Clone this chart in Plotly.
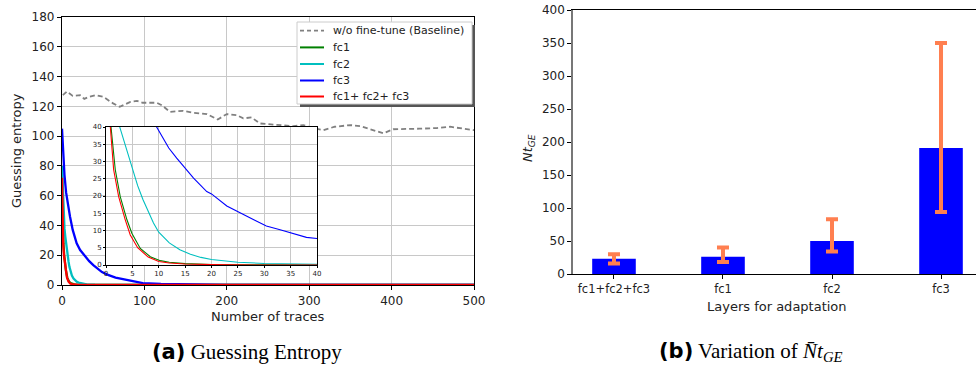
import plotly.graph_objects as go

W, H = 976, 367

# ---------------- data ----------------
base_x = [1, 6, 13, 22, 27, 33, 41, 50, 62, 70, 83, 91, 98, 115, 121, 131, 147, 159, 176, 189, 200,
          212, 220, 230, 240, 252, 265, 281, 293, 305, 317, 331, 350, 362, 374, 390, 402, 418, 434,
          455, 471, 487, 500]
base_y = [127.5, 130, 127, 127.5, 125, 126.4, 127.5, 126.4, 122, 119.7, 123, 123.7, 122.4, 122.4,
          120.8, 116.3, 117, 115.7, 114.8, 111.2, 114.8, 114.1, 111.9, 112.6, 108.5, 108, 107.4,
          106.7, 107.4, 105.4, 104, 106.3, 107.4, 106.7, 104.6, 101.9, 104.6, 105, 105, 105.4,
          106.3, 105, 104]

fc1_x = [0, 0.5, 0.95, 1.76, 2.7, 3.97, 4.9, 6.5, 8.4, 10.3, 12, 15, 20, 30, 50, 500]
fc1_y = [75, 55, 40, 27.6, 19.8, 13.1, 9.2, 4.8, 2.4, 1.26, 0.8, 0.4, 0.15, 0.05, 0, 0]

fc2_x = [0, 1, 2, 2.6, 3, 4, 5, 6, 7, 8, 9, 10, 11, 12, 14, 16, 18, 20, 25, 30, 40, 60, 100, 500]
fc2_y = [80, 62, 48, 40, 38, 32.5, 27.5, 23, 19, 15.5, 12.2, 9.5, 7.8, 6.4, 4.4, 3.1, 2.2, 1.6,
         0.8, 0.45, 0.2, 0.05, 0, 0]

# fc3 as drawn in the main panel
fc3_main_x = [0, 1, 2, 3, 5, 7, 9.7, 13, 17.8, 22, 28, 33, 38, 43, 48.5, 55, 65, 78.5, 98, 120,
              150, 200, 300, 500]
fc3_main_y = [105, 92, 82, 74, 62, 54, 46, 37, 28, 23.5, 19, 16, 13.4, 11, 8.7, 7, 5, 3.4, 1.3,
              0.7, 0.35, 0.1, 0, 0]
# fc3 as drawn in the zoomed inset
fc3_x = [0, 1, 2, 3, 4, 5, 6, 7, 8, 9.6, 11.9, 13.4, 15.3, 16.6, 19.1, 20, 22.9, 25.4, 27.9,
         30.4, 33, 35.5, 38, 40, 45]
fc3_y = [105, 90, 78, 68, 60, 54, 49, 45, 42.5, 40, 33.9, 31, 27.6, 25.2, 21.3, 20.6, 17.1, 15.2,
         13.3, 11.3, 10.2, 9, 8, 7.7, 6.8]

all_x = [0, 0.5, 0.82, 1.45, 2.4, 3.65, 4.6, 6, 8, 10, 12, 15, 20, 30, 500]
all_y = [72, 52, 40, 27.6, 19.8, 13.1, 8.7, 5, 2.3, 1.0, 0.6, 0.3, 0.1, 0, 0]

bar_cats = ["fc1+fc2+fc3", "fc1", "fc2", "fc3"]
bar_vals = [23, 26, 50, 191]
err_plus = [7, 14, 33, 159]
err_minus = [7, 8, 16, 97]

legend_names = ["w/o fine-tune (Baseline)", "fc1", "fc2", "fc3", "fc1+ fc2+ fc3"]
legend_colors = ["#808080", "#008000", "#00BFBF", "#0000FF", "#FF0000"]

main_series = [
    (fc1_x, fc1_y, legend_colors[1]),
    (fc2_x, fc2_y, legend_colors[2]),
    (fc3_main_x, fc3_main_y, legend_colors[3]),
    (all_x, all_y, legend_colors[4]),
]
inset_series = [
    (fc1_x, fc1_y, legend_colors[1]),
    (fc2_x, fc2_y, legend_colors[2]),
    (fc3_x, fc3_y, legend_colors[3]),
    (all_x, all_y, legend_colors[4]),
]

# ---------------- figure ----------------
def px_x(p):
    return p / W

def px_y(p):
    return 1 - p / H

fig = go.Figure()

fig.add_trace(go.Scatter(x=base_x, y=base_y, mode="lines", showlegend=False,
                         line=dict(color=legend_colors[0], width=1.8, dash="5px,3px"),
                         xaxis="x", yaxis="y"))
for xs, ys, col in main_series:
    fig.add_trace(go.Scatter(x=xs, y=ys, mode="lines", showlegend=False,
                             line=dict(color=col, width=2.3), xaxis="x", yaxis="y"))
for xs, ys, col in inset_series:
    fig.add_trace(go.Scatter(x=xs, y=ys, mode="lines", showlegend=False,
                             line=dict(color=col, width=1.1), xaxis="x3", yaxis="y3"))

fig.add_trace(go.Bar(x=bar_cats, y=bar_vals, width=0.4, marker=dict(color="#0000FF", line=dict(width=0)),
                     showlegend=False, xaxis="x2", yaxis="y2",
                     error_y=dict(type="data", symmetric=False, array=err_plus, arrayminus=err_minus,
                                  color="#FF7F50", thickness=4, width=6)))

font_fam = "DejaVu Sans"
tick_col = "#222"

common = dict(automargin=False, zeroline=False, tickcolor="black")

fig.update_layout(
    width=W, height=H,
    margin=dict(l=0, r=0, t=0, b=0, autoexpand=False),
    paper_bgcolor="white", plot_bgcolor="white",
    font=dict(family=font_fam, color=tick_col, size=12),
    showlegend=False,
    xaxis=dict(domain=[px_x(62), px_x(474)], range=[0, 500], dtick=100, anchor="y",
               showgrid=True, gridcolor="#c8c8c8", gridwidth=1,
               showline=True, linecolor="black", linewidth=1.2, mirror=True,
               ticks="outside", ticklen=4, tickfont=dict(size=12), **common),
    yaxis=dict(domain=[px_y(285), px_y(17)], range=[0, 180], dtick=20, anchor="x",
               showgrid=True, gridcolor="#c8c8c8", gridwidth=1,
               showline=True, linecolor="black", linewidth=1.2, mirror=True,
               ticks="outside", ticklen=4, tickfont=dict(size=12), **common),
    xaxis3=dict(domain=[px_x(106), px_x(317)], range=[0, 40], dtick=5, anchor="y3",
                showgrid=True, gridcolor="#c8c8c8", gridwidth=1,
                showline=True, linecolor="black", linewidth=1, mirror=True,
                ticks="outside", ticklen=2, tickfont=dict(size=7), **common),
    yaxis3=dict(domain=[px_y(265), px_y(127)], range=[0, 40], dtick=5, anchor="x3",
                showgrid=True, gridcolor="#c8c8c8", gridwidth=1,
                showline=True, linecolor="black", linewidth=1, mirror=True,
                ticks="outside", ticklen=2, tickfont=dict(size=7), **common),
    xaxis2=dict(domain=[px_x(573), 1], range=[-0.376, 3.321], type="category", anchor="y2",
                showgrid=False,
                showline=True, linecolor="black", linewidth=1.2, mirror=True,
                ticks="outside", ticklen=4, tickfont=dict(size=11.5), **common),
    yaxis2=dict(domain=[px_y(274), px_y(10)], range=[0, 400], dtick=50, anchor="x2",
                showgrid=False,
                showline=True, linecolor="#777", linewidth=1.5,
                ticks="outside", ticklen=4, tickfont=dict(size=12), **common),
)

# white background for the inset (covers main grid under it)
fig.add_shape(type="rect", xref="x3", yref="y3", x0=0, x1=40, y0=0, y1=40,
              fillcolor="white", line=dict(width=0), layer="below")

# ---- manual legend ----
lx0, lx1, ly0, ly1 = 297, 472, 22, 104
fig.add_shape(type="rect", xref="paper", yref="paper",
              x0=px_x(lx0 + 3), x1=px_x(lx1 + 3), y0=px_y(ly1 + 3), y1=px_y(ly0 + 3),
              fillcolor="#555", line=dict(width=0), layer="above")
fig.add_shape(type="rect", xref="paper", yref="paper",
              x0=px_x(lx0), x1=px_x(lx1), y0=px_y(ly1), y1=px_y(ly0),
              fillcolor="white", line=dict(color="#cccccc", width=1), layer="above")
row_y = [30.7, 47.4, 64, 80.5, 96.5]
for i, (nm, col) in enumerate(zip(legend_names, legend_colors)):
    fig.add_shape(type="line", xref="paper", yref="paper",
                  x0=px_x(300), x1=px_x(324), y0=px_y(row_y[i]), y1=px_y(row_y[i]),
                  line=dict(color=col, width=2 if i else 1.8, dash="4px,3px" if i == 0 else "solid"),
                  layer="above")
    fig.add_annotation(xref="paper", yref="paper", x=px_x(331), y=px_y(row_y[i]),
                       xanchor="left", yanchor="middle", showarrow=False, text=nm,
                       font=dict(size=11, family=font_fam, color="#222"))

# ---- axis titles ----
fig.add_annotation(xref="paper", yref="paper", x=px_x(268), y=px_y(316), xanchor="center", yanchor="middle",
                   showarrow=False, text="Number of traces", font=dict(size=13, color="#222"))
fig.add_annotation(xref="paper", yref="paper", x=px_x(16), y=px_y(151), xanchor="center", yanchor="middle",
                   showarrow=False, text="Guessing entropy", textangle=-90, font=dict(size=13, color="#222"))
fig.add_annotation(xref="paper", yref="paper", x=px_x(777), y=px_y(306), xanchor="center", yanchor="middle",
                   showarrow=False, text="Layers for adaptation", font=dict(size=13, color="#222"))
fig.add_annotation(xref="paper", yref="paper", x=px_x(529), y=px_y(148), xanchor="center", yanchor="middle",
                   showarrow=False, text="<i>Nt</i><sub><i>GE</i></sub>", textangle=-90,
                   font=dict(size=13, color="#222"))

# ---- captions ----
cap_font = dict(family="Liberation Serif", size=21, color="black")
fig.add_annotation(xref="paper", yref="paper", x=px_x(247), y=px_y(352), xanchor="center", yanchor="middle",
                   showarrow=False, font=cap_font,
                   text="<span style=\"font-family:'DejaVu Sans';font-weight:bold\">(a)</span> Guessing Entropy")
fig.add_annotation(xref="paper", yref="paper", x=px_x(751), y=px_y(352), xanchor="center", yanchor="middle",
                   showarrow=False, font=cap_font,
                   text="<span style=\"font-family:'DejaVu Sans';font-weight:bold\">(b)</span> Variation of <i>N\u0304t</i><sub><i>GE</i></sub>")

fig.write_html("out.html", config={"displayModeBar": False},
               post_script="document.body.style.margin='0px';document.body.style.padding='0px';"
                           "document.body.style.overflow='hidden';")
